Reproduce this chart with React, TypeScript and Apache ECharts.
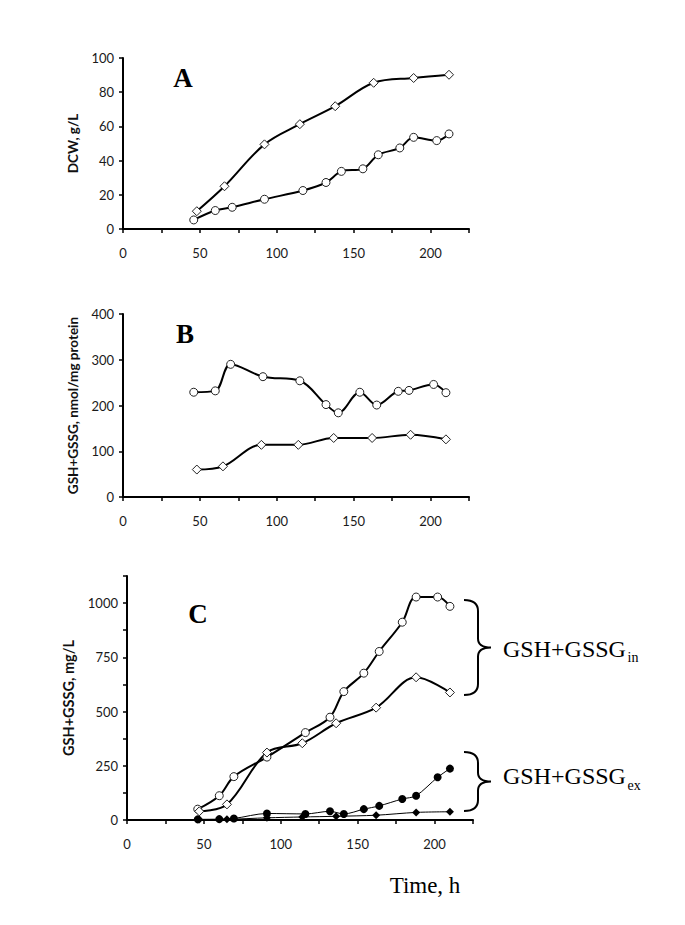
import React, { useEffect, useRef } from "react";
import * as echarts from "echarts";

// ---------- data ----------
// Panel A: dry cell weight (g/L)
const timeADiamond = [48, 66, 92, 115, 138, 163, 189, 212];
const dcwDiamond = [10.4, 25, 49.5, 61.3, 71.8, 85.5, 88.3, 90.2];
const timeACircle = [46, 60, 71, 92, 117, 132, 142, 156, 166, 180, 189, 204, 212];
const dcwCircle = [5.3, 10.8, 12.7, 17.4, 22.5, 27.2, 33.7, 35.2, 43.4, 47.4, 53.6, 51.7, 55.6];

// Panel B: GSH+GSSG, nmol/mg protein
const timeBCircle = [46, 60, 70, 91, 115, 132, 140, 154, 165, 179, 186, 202, 210];
const specCircle = [229, 232, 290, 263, 254, 202, 184, 229, 201, 231, 233, 246, 228];
const timeBDiamond = [48, 65, 90, 114, 137, 162, 187, 210];
const specDiamond = [60, 67, 114, 114, 129, 129, 136, 126];

// Panel C: GSH+GSSG, mg/L
const timeCCircle = [46, 60, 69.5, 91, 116, 132, 141, 154, 164, 179, 188, 202, 210];
const inCircle = [50, 112, 200, 290, 403, 474, 592, 677, 777, 912, 1028, 1028, 985];
const timeCDiamond = [47, 65, 91, 114, 136, 162, 188, 210];
const inDiamond = [40, 72, 311, 354, 446, 518, 658, 588];
const exCircle = [3, 4, 7, 30, 28, 40, 28, 50, 65, 97, 112, 197, 237];
const exDiamond = [2, 3, 10, 14, 17, 22, 35, 38];

const xTickLabels = [0, 50, 100, 150, 200];
const yTicksA = [0, 20, 40, 60, 80, 100];
const yTicksB = [0, 100, 200, 300, 400];
const yTicksC = [0, 250, 500, 750, 1000];

const FONT = 'Lato, "Open Sans", sans-serif';
const SERIF = '"Liberation Serif", "Times New Roman", serif';

const zip = (xs: number[], ys: number[]) => xs.map((x, i) => [x, ys[i]]);

const BRACE = (h: number) =>
  `M0,0 C9,0 14,3 14,11 L14,${h / 2 - 9} C14,${h / 2 - 3} 18,${h / 2} 27,${h / 2} C18,${h / 2} 14,${h / 2 + 3} 14,${h / 2 + 9} L14,${h - 11} C14,${h - 3} 9,${h} 0,${h}`;

export default function App() {
  const ref = useRef<HTMLDivElement>(null);

  useEffect(() => {
    if (!ref.current) return;
    echarts.graphic.registerShape("braceIn", echarts.graphic.extendPath(BRACE(95), {}));
    echarts.graphic.registerShape("braceEx", echarts.graphic.extendPath(BRACE(59), {}));
    const chart = echarts.init(ref.current, null, { renderer: "svg" });

    const xAxis = (gridIndex: number) => ({
      type: "value",
      gridIndex,
      min: 0,
      max: 225,
      interval: 25,
      axisLine: { show: true, onZero: false, lineStyle: { color: "#000", width: 2 } },
      axisTick: { show: true, length: 4, lineStyle: { color: "#000", width: 1.5 } },
      axisLabel: {
        margin: 17,
        fontSize: 13,
        fontFamily: FONT,
        color: "#1a1a1a",
        formatter: (v: number) => (xTickLabels.includes(v) ? String(v) : ""),
      },
      splitLine: { show: false },
    });

    const yAxis = (
      gridIndex: number,
      max: number,
      interval: number,
      labels: number[],
      name: string,
      nameGap: number,
      nameSize: number
    ) => ({
      type: "value",
      gridIndex,
      min: 0,
      max,
      interval,
      name,
      nameLocation: "middle",
      nameGap,
      nameTextStyle: { fontSize: nameSize, fontWeight: "bold", fontFamily: FONT, color: "#111" },
      axisLine: { show: true, onZero: false, lineStyle: { color: "#000", width: 2 } },
      axisTick: { show: true, length: 4, lineStyle: { color: "#000", width: 1.5 } },
      axisLabel: {
        margin: 9,
        fontSize: 13,
        fontFamily: FONT,
        color: "#1a1a1a",
        formatter: (v: number) => (labels.includes(v) ? String(v) : ""),
      },
      splitLine: { show: false },
    });

    const openSeries = (
      idx: number,
      xs: number[],
      ys: number[],
      symbol: string,
      size: number
    ) => ({
      type: "line",
      xAxisIndex: idx,
      yAxisIndex: idx,
      data: zip(xs, ys),
      smooth: 0.35,
      symbol,
      symbolSize: size,
      lineStyle: { color: "#000", width: 2 },
      itemStyle: { color: "#fff", borderColor: "#222", borderWidth: 1 },
      z: 3,
    });

    const filledSeries = (
      idx: number,
      xs: number[],
      ys: number[],
      symbol: string,
      size: number
    ) => ({
      type: "line",
      xAxisIndex: idx,
      yAxisIndex: idx,
      data: zip(xs, ys),
      smooth: 0.3,
      symbol,
      symbolSize: size,
      lineStyle: { color: "#000", width: 1 },
      itemStyle: { color: "#000", borderColor: "#000", borderWidth: 0 },
      z: 4,
    });

    const titleText = (text: string, x: number, y: number) => ({
      type: "text",
      x,
      y,
      style: {
        text,
        fontSize: 27,
        fontWeight: "bold",
        fontFamily: SERIF,
        fill: "#000",
        textAlign: "center",
        textVerticalAlign: "middle",
      },
    });

    const labelText = (text: string, x: number, y: number, size: number) => ({
      type: "text",
      x,
      y,
      style: {
        text,
        fontSize: size,
        fontFamily: SERIF,
        fill: "#000",
        textAlign: "left",
        textVerticalAlign: "middle",
      },
    });

    chart.setOption({
      animation: false,
      backgroundColor: "#fff",
      grid: [
        { left: 123, top: 58, width: 346, height: 171, containLabel: false },
        { left: 123, top: 314, width: 346, height: 183, containLabel: false },
        { left: 127, top: 576, width: 346, height: 244, containLabel: false },
      ],
      xAxis: [xAxis(0), xAxis(1), xAxis(2)],
      yAxis: [
        yAxis(0, 100, 20, yTicksA, "DCW, g/L", 42, 13.5),
        yAxis(1, 400, 100, yTicksB, "GSH+GSSG, nmol/mg protein", 41, 13.5),
        yAxis(2, 1125, 125, yTicksC, "GSH+GSSG, mg/L", 51, 14.5),
      ],
      series: [
        openSeries(0, timeADiamond, dcwDiamond, "diamond", 9),
        openSeries(0, timeACircle, dcwCircle, "circle", 8),
        openSeries(1, timeBCircle, specCircle, "circle", 8),
        openSeries(1, timeBDiamond, specDiamond, "diamond", 9),
        openSeries(2, timeCCircle, inCircle, "circle", 8),
        openSeries(2, timeCDiamond, inDiamond, "diamond", 9),
        filledSeries(2, timeCCircle, exCircle, "circle", 8),
        filledSeries(2, timeCDiamond, exDiamond, "diamond", 8),
      ],
      graphic: [
        titleText("A", 183, 78),
        titleText("B", 185, 334),
        titleText("C", 198, 614),
        {
          type: "braceIn",
          x: 464,
          y: 600,
          style: { stroke: "#000", fill: "none", lineWidth: 2 },
        },
        {
          type: "braceEx",
          x: 464,
          y: 752,
          style: { stroke: "#000", fill: "none", lineWidth: 2 },
        },
        labelText("GSH+GSSG", 503, 649, 24),
        labelText("in", 627.5, 657.5, 14),
        labelText("GSH+GSSG", 503, 776, 24),
        labelText("ex", 627.5, 785.5, 14),
        {
          type: "text",
          x: 425,
          y: 885,
          style: {
            text: "Time, h",
            fontSize: 23,
            fontFamily: SERIF,
            fill: "#000",
            textAlign: "center",
            textVerticalAlign: "middle",
          },
        },
      ],
    });

    return () => chart.dispose();
  }, []);

  return (
    <div
      ref={ref}
      style={{ position: "fixed", left: 0, top: 0, width: 685, height: 925, background: "#fff" }}
    />
  );
}
